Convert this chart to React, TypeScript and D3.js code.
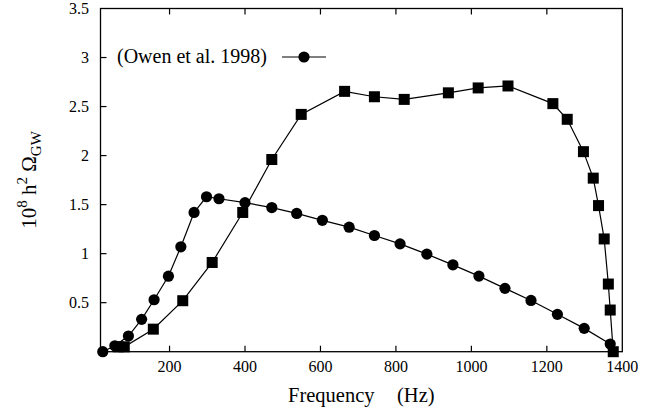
import React from "react";
import * as d3 from "d3";

const circleFreq = [23, 55, 91, 126, 159, 197, 230, 265, 298, 331, 400, 471, 537, 605, 676, 743, 811, 882, 951, 1020, 1089, 1158, 1228, 1299, 1368];
const circleVal = [0, 0.06, 0.16, 0.33, 0.53, 0.77, 1.07, 1.42, 1.58, 1.56, 1.52, 1.47, 1.41, 1.34, 1.27, 1.185, 1.1, 0.995, 0.886, 0.771, 0.646, 0.523, 0.381, 0.238, 0.078];

const squareFreq = [64, 80, 157, 235, 313, 394, 471, 549, 664, 743, 822, 939, 1018, 1097, 1216, 1254, 1297, 1323, 1337, 1352, 1363, 1368, 1376];
const squareVal = [0.05, 0.05, 0.23, 0.52, 0.91, 1.42, 1.96, 2.42, 2.655, 2.6, 2.573, 2.64, 2.69, 2.71, 2.53, 2.37, 2.04, 1.77, 1.49, 1.15, 0.69, 0.425, 0];

const xTicks = [200, 400, 600, 800, 1000, 1200, 1400];
const yTicks = [0.5, 1, 1.5, 2, 2.5, 3, 3.5];
const legendLabel = "(Owen et al. 1998)";

const W = 667;
const H = 412;
const FONT = "Liberation Serif, DejaVu Serif, serif";
const tStyle = { fontFamily: FONT };

export default function App() {
  const x = d3.scaleLinear().domain([17, 1400]).range([100.5, 622.3]);
  const y = d3.scaleLinear().domain([0, 3.5]).range([351.7, 8.5]);
  const [x0, x1] = x.range();
  const [y0, y1] = y.range();

  const circles = circleFreq.map((f, i) => [f, circleVal[i]] as [number, number]);
  const squares = squareFreq.map((f, i) => [f, squareVal[i]] as [number, number]);
  const line = d3
    .line<[number, number]>()
    .x((d) => x(d[0]))
    .y((d) => y(d[1]));

  const tickLen = 6;
  const r = 5.6;
  const s = 11;

  return (
    <svg
      width={W}
      height={H}
      style={{ position: "absolute", left: 0, top: 0, background: "#fff", fontFamily: FONT }}
    >
      <rect x={0} y={0} width={W} height={H} fill="#fff" />
      <rect x={x0} y={y1} width={x1 - x0} height={y0 - y1} fill="none" stroke="#000" strokeWidth={1.3} />
      {xTicks.map((t) => (
        <g key={"xt" + t}>
          {t < 1400 && (
            <>
              <line x1={x(t)} x2={x(t)} y1={y0} y2={y0 - tickLen} stroke="#000" strokeWidth={1.2} />
              <line x1={x(t)} x2={x(t)} y1={y1} y2={y1 + tickLen} stroke="#000" strokeWidth={1.2} />
            </>
          )}
          <text x={x(t)} y={372} fontSize={16} textAnchor="middle" fill="#000" style={tStyle}>
            {t}
          </text>
        </g>
      ))}
      {yTicks.map((t) => (
        <g key={"yt" + t}>
          {t < 3.5 && (
            <line x1={x0} x2={x0 + tickLen} y1={y(t)} y2={y(t)} stroke="#000" strokeWidth={1.2} />
          )}
          <text x={89} y={y(t) + 5.5} fontSize={16} textAnchor="end" fill="#000" style={tStyle}>
            {t}
          </text>
        </g>
      ))}
      <path d={line(squares) || ""} fill="none" stroke="#000" strokeWidth={1.2} />
      <path d={line(circles) || ""} fill="none" stroke="#000" strokeWidth={1.2} />
      {squares.map((d, i) => (
        <rect key={"s" + i} x={x(d[0]) - s / 2} y={y(d[1]) - s / 2} width={s} height={s} fill="#000" />
      ))}
      {circles.map((d, i) => (
        <circle key={"c" + i} cx={x(d[0])} cy={y(d[1])} r={r} fill="#000" />
      ))}
      <text x={117} y={63} fontSize={20} fill="#000" style={tStyle}>
        {legendLabel}
      </text>
      <line x1={282} x2={326} y1={57} y2={57} stroke="#000" strokeWidth={1.2} />
      <circle cx={304} cy={57} r={r} fill="#000" />
      <text x={288} y={402} fontSize={20.5} fill="#000" style={tStyle}>
        Frequency
      </text>
      <text x={397} y={402} fontSize={20.5} fill="#000" style={tStyle}>
        (Hz)
      </text>
      <text transform="translate(36,180) rotate(-90)" fontSize={21} textAnchor="middle" fill="#000" style={tStyle}>
        <tspan>10</tspan>
        <tspan fontSize={15} dy={-9}>8</tspan>
        <tspan dy={9}>{" h"}</tspan>
        <tspan fontSize={15} dy={-9}>2</tspan>
        <tspan dy={9}>{" Ω"}</tspan>
        <tspan fontSize={15} dy={5}>GW</tspan>
      </text>
    </svg>
  );
}
